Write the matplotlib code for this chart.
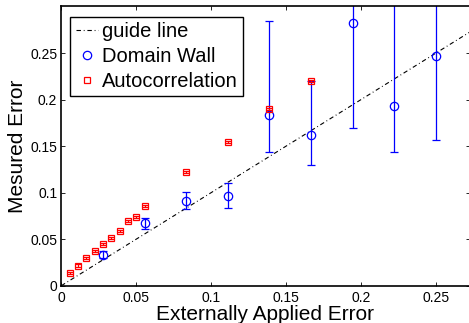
import numpy as np
import matplotlib
matplotlib.use("Agg")
import matplotlib.pyplot as plt
from matplotlib.lines import Line2D

plt.rcParams['font.family'] = ['Liberation Sans', 'DejaVu Sans']

# Data
dw_x = np.array([1, 2, 3, 4, 5, 6, 7, 8, 9]) / 36.0
dw_y = np.array([0.0335, 0.067, 0.0908, 0.0962, 0.183, 0.1617, 0.2817, 0.1934, 0.247])
dw_low = np.array([0.0296, 0.0605, 0.082, 0.084, 0.1435, 0.130, 0.169, 0.1435, 0.157])
dw_high = np.array([0.0377, 0.073, 0.1008, 0.110, 0.2845, 0.2198, 0.40, 0.36, 0.34])

ac_x = np.array([1, 2, 3, 4, 5, 6, 7, 8, 9, 10, 15, 20, 25, 30]) / 180.0
ac_y = np.array([0.0139, 0.0217, 0.0296, 0.0374, 0.0449, 0.0513, 0.0591, 0.0691,
                 0.0741, 0.0858, 0.122, 0.1546, 0.190, 0.2198])
ac_err = np.array([0.0012] * 14)

guide_x = [0.0, 0.3]
guide_y = [0.0, 0.3]

xticks = [0, 0.05, 0.1, 0.15, 0.2, 0.25]
xticklabels = ['0', '0.05', '0.1', '0.15', '0.2', '0.25']
yticks = [0, 0.05, 0.1, 0.15, 0.2, 0.25]
yticklabels = ['0', '0.05', '0.1', '0.15', '0.2', '0.25']

W, H = 469, 323
fig = plt.figure(figsize=(W / 100, H / 100), dpi=100)
left, right, top, bottom = 61.3, 469.5, 6.0, 285.7
ax = fig.add_axes([left / W, (H - bottom) / H, (right - left) / W, (bottom - top) / H])

ax.plot(guide_x, guide_y, '-.', color='black', lw=0.8, dashes=(4, 2.5, 0.8, 2.5))

ax.errorbar(dw_x, dw_y, yerr=[dw_y - dw_low, dw_high - dw_y], fmt='none',
            ecolor='#0000ff', elinewidth=0.9, capsize=3, capthick=0.9)
ax.plot(dw_x, dw_y, 'o', mfc='none', mec='#0000ff', ms=6, mew=0.9)

ax.errorbar(ac_x, ac_y, yerr=ac_err, fmt='none', ecolor='#ff0000',
            elinewidth=0.9, capsize=2.5, capthick=0.9)
ax.plot(ac_x, ac_y, 's', mfc='none', mec='#ff0000', ms=5, mew=0.9)

ax.set_xlim(0, (right - left) / 1499.0)
ax.set_ylim(0, 0.3005)
ax.set_xticks(xticks)
ax.set_xticklabels(xticklabels)
ax.set_yticks(yticks)
ax.set_yticklabels(yticklabels)
ax.tick_params(direction='in', length=3, width=0.6, labelsize=10, top=True, right=True, pad=3)
ax.tick_params(axis='x', pad=4)
for s in ax.spines.values():
    s.set_linewidth(1.2)

ax.set_xlabel('Externally Applied Error', fontsize=15)
ax.xaxis.set_label_coords(0.5, -(320 - bottom) / (bottom - top))
ax.xaxis.label.set_va('baseline')
ax.set_ylabel('Mesured Error', fontsize=15)
ax.yaxis.set_label_coords(-(left - 23) / (right - left), 0.5)
ax.yaxis.label.set_va('baseline')

handles = [
    Line2D([], [], ls='-.', color='black', lw=0.8, dashes=(4, 2.5, 0.8, 2.5)),
    Line2D([], [], ls='none', marker='o', mfc='none', mec='#0000ff', ms=6, mew=0.9),
    Line2D([], [], ls='none', marker='s', mfc='none', mec='#ff0000', ms=5, mew=0.9),
]
labels = ['guide line', 'Domain Wall', 'Autocorrelation']
leg = ax.legend(handles, labels, loc='upper left',
                bbox_to_anchor=((70 - left) / (right - left), (bottom - 16.7) / (bottom - top)),
                borderaxespad=0, fontsize=14.5, handlelength=1.1, handletextpad=0.2,
                labelspacing=0.28, borderpad=0.28, fancybox=False, framealpha=1,
                edgecolor='black')
leg.get_frame().set_linewidth(1.0)

fig.savefig('out.png', dpi=100)
